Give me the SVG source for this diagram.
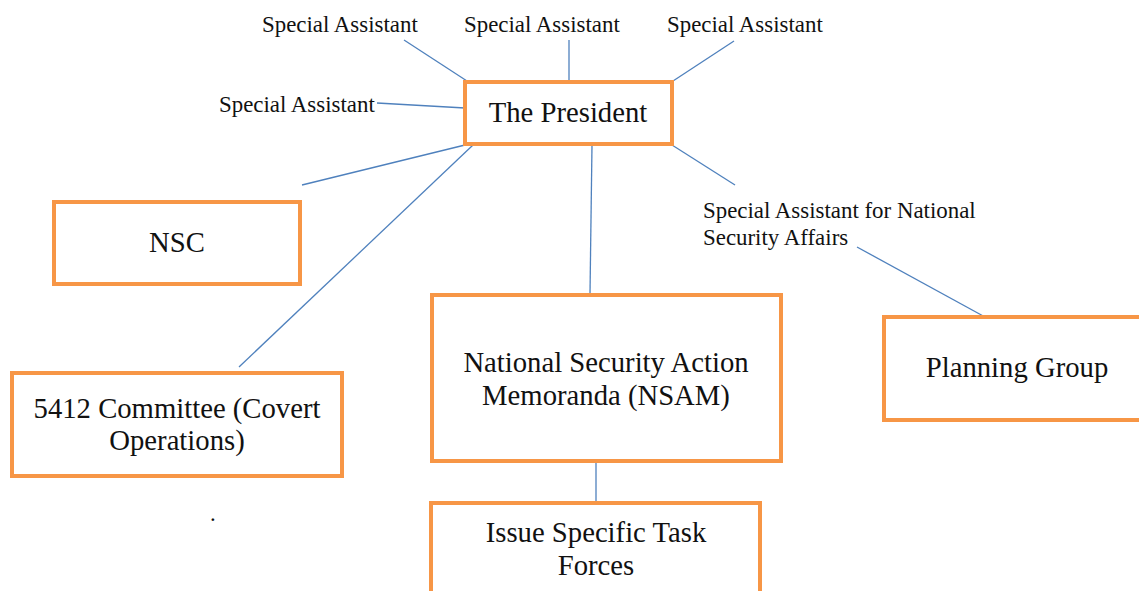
<svg xmlns="http://www.w3.org/2000/svg" width="1139" height="591" viewBox="0 0 1139 591">
  <style>
    .box { fill: #ffffff; stroke: #F79646; stroke-width: 4; }
    .link { stroke: #4F81BD; stroke-width: 1.3; fill: none; }
    .big { font-family: "Liberation Serif", serif; font-size: 28.7px; fill: #111111; text-anchor: middle; }
    .small { font-family: "Liberation Serif", serif; font-size: 22.9px; fill: #111111; }
  </style>
  <rect width="1139" height="591" fill="#ffffff"/>

  <!-- connectors -->
  <g id="connectors">
    <line class="link" x1="404" y1="40" x2="467" y2="81"/>
    <line class="link" x1="569" y1="40" x2="569" y2="81"/>
    <line class="link" x1="734" y1="41" x2="673" y2="81"/>
    <line class="link" x1="377" y1="103" x2="465" y2="108"/>
    <line class="link" x1="465" y1="145" x2="302" y2="185"/>
    <line class="link" x1="473" y1="145" x2="239" y2="367"/>
    <line class="link" x1="592" y1="145" x2="590" y2="294"/>
    <line class="link" x1="672" y1="145" x2="735" y2="185"/>
    <line class="link" x1="857" y1="247" x2="985" y2="317"/>
    <line class="link" x1="596" y1="461" x2="596" y2="502"/>
  </g>

  <!-- labels -->
  <g id="labels">
    <text class="small" x="262" y="32">Special Assistant</text>
    <text class="small" x="464" y="32">Special Assistant</text>
    <text class="small" x="667" y="32">Special Assistant</text>
    <text class="small" x="219" y="112">Special Assistant</text>
    <text class="small" x="703" y="218">Special Assistant for National</text>
    <text class="small" x="703" y="245">Security Affairs</text>
    <text class="small" x="210" y="521">.</text>
  </g>

  <g id="president">
    <rect class="box" x="465" y="82" width="207" height="62"/>
    <text class="big" x="568" y="122">The President</text>
  </g>

  <g id="nsc">
    <rect class="box" x="54" y="202" width="246" height="82"/>
    <text class="big" x="177" y="252">NSC</text>
  </g>

  <g id="committee-5412">
    <rect class="box" x="12" y="373" width="330" height="103"/>
    <text class="big" x="177" y="418">5412 Committee (Covert</text>
    <text class="big" x="177" y="450">Operations)</text>
  </g>

  <g id="nsam">
    <rect class="box" x="432" y="295" width="349" height="166"/>
    <text class="big" x="606" y="372">National Security Action</text>
    <text class="big" x="606" y="405">Memoranda (NSAM)</text>
  </g>

  <g id="task-forces">
    <rect class="box" x="431" y="503" width="329" height="100"/>
    <text class="big" x="596" y="542">Issue Specific Task</text>
    <text class="big" x="596" y="575">Forces</text>
  </g>

  <g id="planning-group">
    <rect class="box" x="884" y="317" width="270" height="103"/>
    <text class="big" x="1017" y="377">Planning Group</text>
  </g>
</svg>
